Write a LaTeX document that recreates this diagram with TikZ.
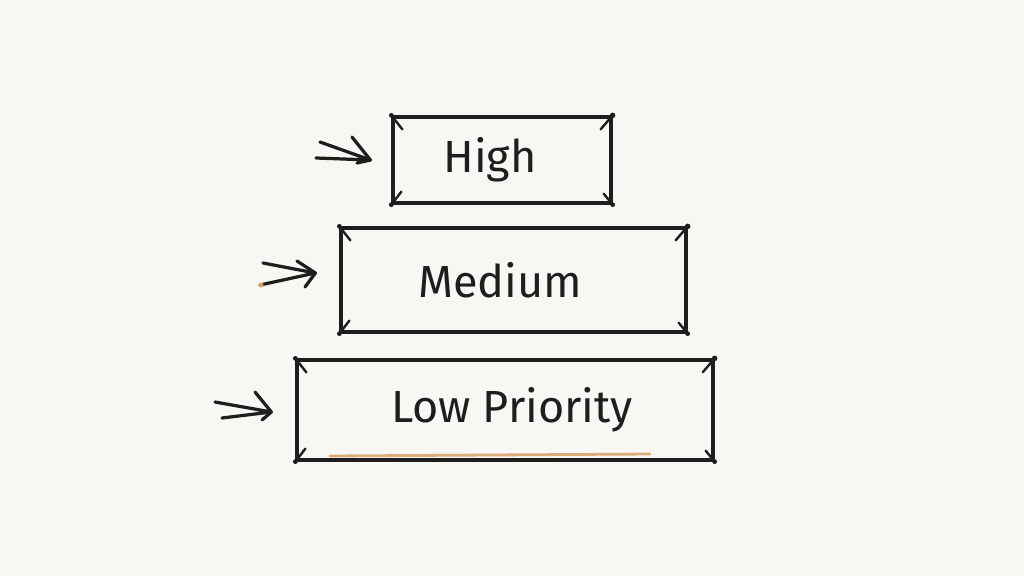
\documentclass[tikz,border=0pt]{standalone}
\usepackage{fontspec}
\setmainfont{Fira Sans}
\definecolor{ink}{HTML}{1E1E1E}
\definecolor{paper}{HTML}{F8F7F3}
\definecolor{smudge}{HTML}{D9A066}
\begin{document}
\begin{tikzpicture}[x=0.25mm,y=-0.25mm,
  ink line/.style={draw=ink,line width=2.3pt,line cap=round,line join=round},
  box/.style={ink line,rectangle,inner sep=0pt,font=\fontsize{32}{38}\selectfont,text=ink},
  tick/.style={draw=ink,line width=1.7pt,line cap=round}]
\fill[paper] (0,0) rectangle (1024,576);
\useasboundingbox (0,0) rectangle (1024,576);
% orange smudge under low box
\draw[smudge,line width=2pt,line cap=round,opacity=0.85] (330,456) -- (650,454);
% boxes
\node[box,minimum width=54.5mm,minimum height=21.5mm] (h) at (502,160) {High\kern6mm};
\node[box,minimum width=86.25mm,minimum height=26mm] (m) at (513.5,280) {Medium\kern6.75mm};
\node[box,minimum width=104mm,minimum height=25mm] (l) at (505,410) {\kern3.5mm Low Priority};
% corner ticks
\foreach \n in {h,m,l}{
  \draw[tick] (\n.north west) -- ++(11,14);
  \draw[tick] (\n.south west) -- ++(10,-13);
  \draw[tick] (\n.north east) -- ++(-12,14);
  \draw[tick] (\n.south east) -- ++(-9,-11);
  \fill[ink] (\n.north west) circle (2.4);
  \fill[ink] (\n.south west) circle (2.4);
  \fill[ink] (\n.north east) circle (2.8);
  \fill[ink] (\n.south east) circle (2.4);
}
% arrows: two converging shafts and an open head
\coordinate (ha) at (320,142);
\coordinate (hb) at (316,158);
\coordinate (ht) at ([xshift=-5.25mm]h.west);
\draw[ink line] (ha) -- (ht) (hb) -- (ht);
\draw[ink line] (352,137) -- (ht) -- (357,163);
\coordinate (ma) at (263,263);
\coordinate (mb) at (260,285);
\coordinate (mt) at ([xshift=-6mm,yshift=1.75mm]m.west);
\draw[ink line] (ma) -- (mt) (mb) -- (mt);
\draw[ink line] (297,261) -- (mt) -- (305,287);
\fill[smudge] (261,285) circle (2.5);
\coordinate (la) at (215,402);
\coordinate (lb) at (222,418);
\coordinate (lt) at ([xshift=-6mm,yshift=-0.5mm]l.west);
\draw[ink line] (la) -- (lt) (lb) -- (lt);
\draw[ink line] (255,392) -- (lt) -- (262,420);
\end{tikzpicture}
\end{document}
